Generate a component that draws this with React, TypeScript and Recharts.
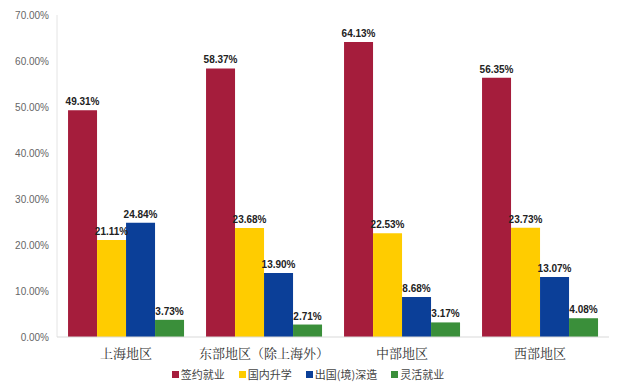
import React from 'react';
import { BarChart, Bar, XAxis, YAxis, CartesianGrid, LabelList, Legend } from 'recharts';

const categories = ['上海地区', '东部地区（除上海外）', '中部地区', '西部地区'];
const signed = [49.31, 58.37, 64.13, 56.35];
const domestic = [21.11, 23.68, 22.53, 23.73];
const abroad = [24.84, 13.9, 8.68, 13.07];
const flexible = [3.73, 2.71, 3.17, 4.08];
const seriesNames = ['签约就业', '国内升学', '出国(境)深造', '灵活就业'];
const seriesColors = ['#A51D3C', '#FFCC00', '#0B3F98', '#3A8F3A'];
const yTicks = [0, 10, 20, 30, 40, 50, 60, 70];
const gridTicks = [0, 2, 4, 6, 8, 10, 12, 14, 16, 18, 20, 22, 24, 26, 28, 30, 32, 34, 36, 38, 40, 42, 44, 46, 48, 50, 52, 54, 56, 58, 60, 62, 64, 66, 68, 70];

const data = categories.map((c, i) => ({
  name: c,
  s0: signed[i],
  s1: domestic[i],
  s2: abroad[i],
  s3: flexible[i],
}));

const fmt = (v: any) => `${Number(v).toFixed(2)}%`;

const LegendContent = () => (
  <div style={{ display: 'flex', justifyContent: 'center', gap: 14, fontSize: 11, fontFamily: '"Noto Sans CJK SC", sans-serif', color: '#444', lineHeight: '14px' }}>
    {seriesNames.map((n, i) => (
      <span key={n} style={{ display: 'inline-flex', alignItems: 'center' }}>
        <span style={{ display: 'inline-block', width: 7, height: 7, background: seriesColors[i], marginRight: 2 }} />
        {n}
      </span>
    ))}
  </div>
);

export default function App() {
  return (
    <div style={{ position: 'absolute', left: 0, top: 0, background: '#fff' }}>
      <BarChart
        width={623}
        height={387}
        data={data}
        margin={{ top: 15, right: 14, left: 7, bottom: 4 }}
        barCategoryGap="8%"
        barGap={0}
      >
        <CartesianGrid stroke="#ececec" vertical={false} horizontalValues={gridTicks} />
        <YAxis
          yAxisId="l"
          domain={[0, 70]}
          ticks={yTicks}
          tickFormatter={(v) => `${v.toFixed(2)}%`}
          width={50}
          axisLine={{ stroke: '#e4e4e4' }}
          tickLine={false}
          tick={{ fill: '#666', fontSize: 10, fontFamily: 'Liberation Sans, Arial, sans-serif' }}
        />
        <YAxis
          yAxisId="r"
          orientation="right"
          domain={[0, 70]}
          width={0}
          tick={false}
          tickLine={false}
          axisLine={{ stroke: '#e4e4e4' }}
        />
        <XAxis
          dataKey="name"
          axisLine={{ stroke: '#d9d9d9' }}
          tickLine={false}
          height={30}
          tick={{ fill: '#333', fontSize: 13, fontFamily: '"Noto Serif CJK SC", "Noto Sans CJK SC", serif' }}
          tickMargin={6}
        />
        <Legend verticalAlign="bottom" height={16} content={<LegendContent />} />
        {['s0', 's1', 's2', 's3'].map((k, i) => (
          <Bar
            key={k}
            yAxisId="l"
            dataKey={k}
            name={seriesNames[i]}
            fill={seriesColors[i]}
            isAnimationActive={false}
          >
            <LabelList
              dataKey={k}
              position="top"
              formatter={fmt}
              style={{ fill: '#222', fontSize: 10, fontWeight: 'bold', fontFamily: 'Liberation Sans, Arial, sans-serif' }}
            />
          </Bar>
        ))}
      </BarChart>
    </div>
  );
}
